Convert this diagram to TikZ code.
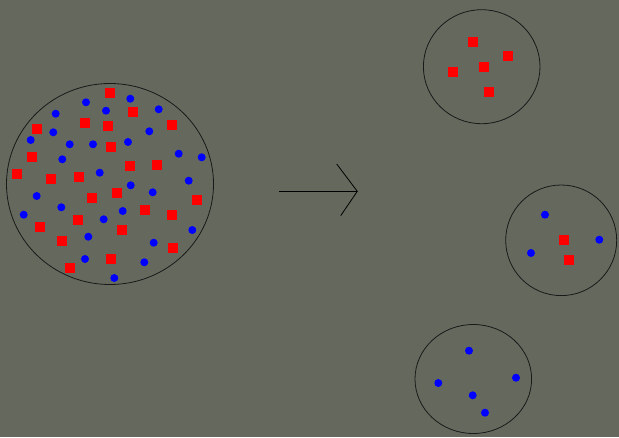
\documentclass[tikz,border=0pt]{standalone}
\begin{document}
\begin{tikzpicture}[x=1pt,y=-1pt,
  bg/.style={fill={rgb,255:red,101;green,105;blue,93}},
  vessel/.style={draw=black!90, line width=0.8pt},
  redsq/.style={rectangle, fill={rgb,255:red,255;green,0;blue,0}, minimum size=10pt, inner sep=0pt},
  bluedot/.style={circle, fill={rgb,255:red,0;green,0;blue,255}, minimum size=8pt, inner sep=0pt},
  flow/.style={line width=0.8pt, draw=black}]
  % canvas
  \fill[bg] (0,0) rectangle (619,437);
  \useasboundingbox (0,0) rectangle (619,437);

  % mixed population
  \draw[vessel] (110,184) ellipse [x radius=103.5, y radius=100.5];
  \foreach \x/\y [count=\i] in {110.3/93.3, 133.3/112, 85.3/122.7, 108/125.7, 172/125,
      37.3/128.7, 111/147.3, 32.3/156.7, 130/166, 156.7/164.7, 17.3/174, 51.3/178.7,
      79/176.7, 116.7/192.7, 92.3/197.7, 196.7/200, 145/210.3, 172/215, 78.3/219.7,
      39.7/226.7, 121.7/230.3, 62/241, 173/248, 111/258.7, 70/268}
    \node[redsq] (mr\i) at (\x,\y) {};
  \foreach \x/\y [count=\i] in {86/102.3, 130.3/98.7, 158.7/109.3, 55.7/113.7, 106/110.7,
      53.3/132.3, 149.3/131.3, 30.7/140, 69.7/144.3, 93/144.3, 128/142, 178.7/153.7,
      201.7/157.3, 62.3/159.3, 99.7/172.7, 188.7/180.7, 130.7/185.3, 152.7/192.3,
      36.7/196, 61.3/207.3, 122.7/211, 23.7/214.7, 103.7/219.3, 192.3/230, 88.3/236.7,
      153.7/242.7, 85/259, 144.3/262.3, 114.3/278}
    \node[bluedot] (mb\i) at (\x,\y) {};

  % transition arrow with open head
  \coordinate (tail) at (279,191.3);
  \coordinate (tip) at (357.3,191.3);
  \coordinate (wingA) at (336.7,164);
  \coordinate (wingB) at (340.7,215.7);
  \draw[flow] (tail) -- (tip);
  \draw[flow] (wingA) -- (tip) -- (wingB);

  % separated groups
  \draw[vessel] (481.7,66.7) ellipse [x radius=58.3, y radius=57];
  \foreach \x/\y [count=\i] in {473.3/42, 508.3/56, 484/66.7, 452.7/72.3, 488.7/92}
    \node[redsq] (ar\i) at (\x,\y) {};

  \draw[vessel] (561.2,240.3) ellipse [x radius=55.5, y radius=55.3];
  \foreach \x/\y [count=\i] in {563.7/240, 569.3/260}
    \node[redsq] (br\i) at (\x,\y) {};
  \foreach \x/\y [count=\i] in {545/214.7, 599.3/239.7, 531/253}
    \node[bluedot] (bb\i) at (\x,\y) {};

  \draw[vessel] (473.3,379) ellipse [x radius=58.3, y radius=54.5];
  \foreach \x/\y [count=\i] in {469/350.7, 516/377.7, 438.3/383, 472.7/395.3, 485/412.7}
    \node[bluedot] (cb\i) at (\x,\y) {};
\end{tikzpicture}
\end{document}
